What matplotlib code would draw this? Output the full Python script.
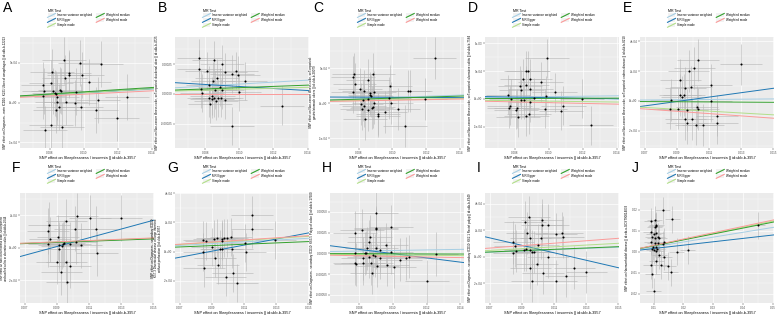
import matplotlib
matplotlib.use("Agg")
import matplotlib.pyplot as plt
from matplotlib.lines import Line2D
from matplotlib.patches import Rectangle
from matplotlib.legend_handler import HandlerBase
from matplotlib.ticker import AutoMinorLocator

plt.rcParams['font.family'] = ['Liberation Sans', 'DejaVu Sans']

W, H = 777, 315

methods = ['Inverse variance weighted', 'MR Egger', 'Simple mode', 'Weighted median', 'Weighted mode']
method_colors = ['#A6CEE3', '#1F78B4', '#B2DF8A', '#33A02C', '#FB9A99']

x_label = 'SNP effect on Sleeplessness / insomnia || id:ukb-b-3957'

# (beta exposure, beta outcome)
A_snps = [(0.00882, 5.3e-4), (0.00976, 5.0e-4), (0.01098, 4.9e-4), (0.00810, 3.8e-4), (0.00912, 3.75e-4),
          (0.00912, 3.46e-4), (0.0099, 3.5e-4), (0.00886, 3.1e-4), (0.00759, 2.2e-4), (0.00804, 2.5e-4),
          (0.01029, 2.6e-4), (0.00765, 1.5e-4), (0.0082, 1.5e-4), (0.00859, 1.58e-4), (0.00863, 1.46e-4),
          (0.00827, 1.2e-4), (0.00833, 1.1e-4), (0.00951, 1.4e-4), (0.00761, 0.83e-4), (0.00839, 0.67e-4),
          (0.01082, 0.38e-4), (0.01251, 0.75e-4), (0.00843, 0.08e-4), (0.00892, 0.12e-4), (0.00947, 0.0),
          (0.00851, -0.5e-4), (0.0098, -0.5e-4), (0.00833, -0.92e-4), (0.01072, -0.96e-4), (0.01192, -1.92e-4),
          (0.00808, -2.75e-4), (0.00873, -3.0e-4), (0.00769, -3.38e-4)]
B_snps = [(0.00767, 3.03e-4), (0.00853, 2.84e-4), (0.00898, 2.5e-4), (0.00767, 2.06e-4), (0.00812, 1.92e-4),
          (0.00918, 1.86e-4), (0.0098, 1.95e-4), (0.00957, 1.67e-4), (0.00992, 1.58e-4), (0.00869, 1.31e-4),
          (0.00845, 1.08e-4), (0.01035, 1.06e-4), (0.0082, 0.75e-4), (0.00888, 0.56e-4), (0.00776, 0.44e-4),
          (0.00859, 0.36e-4), (0.00898, 0.33e-4), (0.00782, 0.08e-4), (0.00996, 0.14e-4), (0.00843, -0.17e-4),
          (0.00851, -0.31e-4), (0.00825, -0.36e-4), (0.00873, -0.36e-4), (0.00894, -0.36e-4), (0.00839, -0.44e-4),
          (0.00863, -0.56e-4), (0.00918, -0.5e-4), (0.00829, -0.86e-4), (0.01251, -0.97e-4), (0.00957, -2.72e-4)]
C_snps = [(0.0125, 6.47e-4), (0.00771, 4.2e-4), (0.00887, 4.2e-4), (0.00765, 3.68e-4), (0.00775, 2.69e-4),
          (0.00854, 3.3e-4), (0.00984, 2.45e-4), (0.00765, 1.56e-4), (0.00808, 1.98e-4), (0.00833, 1.75e-4),
          (0.00866, 1.51e-4), (0.00893, 1.65e-4), (0.00868, 1.18e-4), (0.00872, 1.04e-4), (0.00852, 0.61e-4),
          (0.00823, 0.47e-4), (0.0098, 0.76e-4), (0.01091, 1.79e-4), (0.01103, 1.75e-4), (0.01192, 0.61e-4),
          (0.00814, -0.09e-4), (0.00833, -0.38e-4), (0.00891, 0.0), (0.00994, 0.0), (0.00876, -0.61e-4),
          (0.00885, -0.47e-4), (0.00852, -0.94e-4), (0.00817, -0.85e-4), (0.00913, -1.56e-4), (0.00914, -1.84e-4),
          (0.00955, -1.23e-4), (0.01033, -0.76e-4), (0.00839, -2.27e-4), (0.01074, -3.21e-4)]
D_snps = [(0.0099, 7.26e-4), (0.00868, 5.06e-4), (0.00878, 5.06e-4), (0.00845, 3.57e-4), (0.00951, 3.03e-4),
          (0.00889, 3.63e-4), (0.00831, 2.32e-4), (0.00868, 2.44e-4), (0.00839, 1.61e-4), (0.00891, 1.79e-4),
          (0.00761, 0.71e-4), (0.00777, 0.0), (0.00835, -0.18e-4), (0.00852, -0.12e-4), (0.00913, 0.18e-4),
          (0.0098, 0.54e-4), (0.01033, 1.19e-4), (0.00889, -0.6e-4), (0.01192, 0.0), (0.00769, -1.25e-4),
          (0.00767, -1.67e-4), (0.00978, -1.79e-4), (0.0081, -1.67e-4), (0.00806, -1.96e-4), (0.01085, -1.19e-4),
          (0.01072, -2.08e-4), (0.00868, -3.09e-4), (0.00885, -2.74e-4), (0.00819, -3.27e-4), (0.01246, -4.7e-4)]
E_snps = [(0.01033, 2.73e-4), (0.013, 2.44e-4), (0.01009, 2.18e-4), (0.00973, 2.0e-4), (0.00922, 1.4e-4),
          (0.01114, 1.07e-4), (0.00989, 0.95e-4), (0.00953, 0.87e-4), (0.00918, 0.4e-4), (0.00942, 0.4e-4),
          (0.00932, 0.29e-4), (0.00862, 0.04e-4), (0.01114, 0.02e-4), (0.00858, -0.51e-4), (0.00908, -0.51e-4),
          (0.00963, -0.58e-4), (0.01025, -0.4e-4), (0.01033, -0.53e-4), (0.0115, -0.98e-4), (0.00953, -1.2e-4),
          (0.00993, -1.22e-4), (0.00963, -1.49e-4), (0.01021, -1.58e-4), (0.01064, -1.62e-4), (0.0115, -1.47e-4)]
F_snps = [(0.01027, 1.94e-4), (0.013, 1.84e-4), (0.01108, 1.84e-4), (0.00959, 1.63e-4), (0.00852, 1.39e-4),
          (0.01013, 1.18e-4), (0.01144, 1.14e-4), (0.00845, 1.04e-4), (0.00856, 0.51e-4), (0.00908, 0.63e-4),
          (0.01019, 0.37e-4), (0.00942, 0.31e-4), (0.00938, 0.2e-4), (0.00847, 0.2e-4), (0.00912, 0.16e-4),
          (0.00932, 0.1e-4), (0.00983, 0.2e-4), (0.01049, 0.14e-4), (0.00912, -0.08e-4), (0.01148, -0.35e-4),
          (0.00902, -0.86e-4), (0.00959, -0.86e-4), (0.00983, -1.1e-4), (0.00928, -1.53e-4), (0.00963, -2.14e-4)]
G_snps = [(0.01148, 2.5e-4), (0.01148, 1.52e-4), (0.01296, 0.79e-4), (0.00847, 0.79e-4), (0.00862, 0.75e-4),
          (0.00912, 0.84e-4), (0.00932, 0.91e-4), (0.00963, 0.84e-4), (0.00973, 0.91e-4), (0.00993, 0.91e-4),
          (0.01019, 0.98e-4), (0.00963, 0.75e-4), (0.01104, 0.61e-4), (0.00902, 0.3e-4), (0.00953, 0.16e-4),
          (0.00963, 0.18e-4), (0.01023, 0.18e-4), (0.00847, 0.0), (0.0111, -0.05e-4), (0.00918, -0.41e-4),
          (0.00936, -0.93e-4), (0.00852, -1.14e-4), (0.01029, -1.48e-4), (0.00985, -1.75e-4), (0.01058, -2.16e-4)]
H_snps = [(0.00898, 4.88e-4), (0.0099, 3.2e-4), (0.00898, 3.08e-4), (0.00902, 2.92e-4), (0.00818, 2.8e-4),
          (0.00775, 2.48e-4), (0.00863, 2.0e-4), (0.00859, 1.4e-4), (0.00961, 1.0e-4), (0.00847, 0.6e-4),
          (0.00902, 0.68e-4), (0.00922, 0.4e-4), (0.0099, 0.16e-4), (0.00775, 0.08e-4), (0.00833, 0.0),
          (0.00839, 0.08e-4), (0.00882, -0.2e-4), (0.00892, -0.32e-4), (0.00859, -0.4e-4), (0.00824, -0.6e-4),
          (0.00925, -0.52e-4), (0.01043, -0.76e-4), (0.01078, -0.6e-4), (0.01094, -0.4e-4), (0.01255, -0.08e-4),
          (0.00775, -1.2e-4), (0.00784, -1.32e-4), (0.00824, -1.2e-4), (0.00873, -1.2e-4), (0.00965, -1.4e-4),
          (0.00906, -1.48e-4), (0.01004, -1.6e-4), (0.00878, -2.32e-4), (0.01202, -3.4e-4)]
I_snps = [(0.00942, 3.0e-4), (0.00918, 2.63e-4), (0.01023, 2.75e-4), (0.01027, 2.38e-4), (0.01062, 2.38e-4),
          (0.00932, 1.8e-4), (0.01114, 1.7e-4), (0.0115, 1.75e-4), (0.01155, 1.5e-4), (0.00953, 1.4e-4),
          (0.01021, 1.4e-4), (0.00847, 1.08e-4), (0.00858, 0.83e-4), (0.01003, 0.88e-4), (0.00862, 0.43e-4),
          (0.00916, 0.5e-4), (0.00928, 0.55e-4), (0.00948, 0.5e-4), (0.00847, 0.3e-4), (0.00963, 0.38e-4),
          (0.00973, 0.33e-4), (0.01064, -0.05e-4), (0.00993, -0.55e-4), (0.00953, -0.83e-4), (0.01227, -0.83e-4),
          (0.01033, -1.25e-4), (0.01175, -1.43e-4), (0.01302, -1.15e-4), (0.00963, -1.83e-4), (0.01114, -1.83e-4)]
J_snps = [(0.01304, 0.0197), (0.0163, 0.0154), (0.01033, 0.015), (0.00924, 0.0145), (0.01087, 0.0126),
          (0.01065, 0.0121), (0.01033, 0.0118), (0.00902, 0.0094), (0.01087, 0.0091), (0.01011, 0.0083),
          (0.00946, 0.0068), (0.01033, 0.0063), (0.01141, 0.0071), (0.01196, 0.0063), (0.00924, 0.0047),
          (0.01033, 0.0039), (0.01163, 0.0039), (0.01304, 0.0035), (0.01359, 0.0047), (0.00978, 0.0024),
          (0.01065, 0.002), (0.00946, 0.0013), (0.01, 0.0008), (0.01087, 0.0005), (0.0112, 0.0014),
          (0.01772, 0.0), (0.02152, 0.0008), (0.01196, -0.0016), (0.01359, -0.0024), (0.00902, -0.0063),
          (0.0125, -0.0063), (0.01087, -0.0043), (0.015, -0.0068), (0.01576, -0.0098), (0.00957, -0.0106),
          (0.01, -0.0189), (0.04511, 0.0126)]

# typical standard errors (exposure, outcome) per panel
A_se = (0.0013, 2.9e-4)
B_se = (0.0013, 1.6e-4)
C_se = (0.0013, 3.0e-4)
D_se = (0.0013, 3.5e-4)
E_se = (0.0013, 1.4e-4)
F_se = (0.0013, 1.4e-4)
G_se = (0.0013, 1.3e-4)
H_se = (0.0013, 2.6e-4)
I_se = (0.0013, 1.6e-4)
J_se = (0.0025, 0.0065)

# MR estimates: (intercept, slope) in order IVW, Egger, simple mode, weighted median, weighted mode
A_fit = [(0, 0.012), (0.2e-5, 0.0125), (0, 0.0125), (0, 0.0136), (0, 0.0106)]
B_fit = [(0, 0.0083), (1.48e-4, -0.0085), (0, 0.004), (0, 0.0053), (0, 0.0)]
C_fit = [(0, 0.0083), (0.95e-4, -0.001), (0, 0.005), (0, 0.0073), (0, 0.0043)]
D_fit = [(0, 0.004), (0.75e-4, -0.0053), (0, -0.004), (0, 0.001), (0, -0.0067)]
E_fit = [(0, 0.0009), (-1.36e-4, 0.0147), (0, -0.0062), (0, -0.0006), (0, -0.0077)]
F_fit = [(0, 0.0038), (-2.35e-4, 0.0269), (0, 0.0039), (0, 0.0036), (0, 0.0040)]
G_fit = [(0, 0.0061), (-1.84e-4, 0.0208), (0, 0.007), (0, 0.0046), (0, 0.0073)]
H_fit = [(0, 0.0034), (2.53e-4, -0.0257), (0, -0.002), (0, -0.0006), (0, -0.0037)]
I_fit = [(0, 0.0047), (3.38e-4, -0.0281), (0, 0.0067), (0, 0.005), (0, 0.0092)]
J_fit = [(0, 0.23), (-0.0001, 0.16), (0, 0.29), (0, 0.28), (0, 0.30)]

ylabels = {
    'A': 'SNP effect on Diagnoses - main ICD10: K221 Ulcer of oesophagus || id:ukb-b-12213',
    'B': 'SNP effect on Non-cancer illness code, self-reported: duodenal ulcer || id:ukb-b-4725',
    'C': 'SNP effect on Non-cancer illness code, self-reported:\ngastric/stomach ulcers || id:ukb-b-20079',
    'D': 'SNP effect on Non-cancer illness code, self-reported: ulcerative colitis || id:ukb-b-7584',
    'E': 'SNP effect on Non-cancer illness code, self-reported: crohns disease || id:ukb-b-8210',
    'F': 'SNP effect on Non-cancer illness code, self-reported:\nunclassified colitis or ulcerative colitis || id:ukb-b-2044',
    'G': 'SNP effect on Diagnoses - secondary ICD10:\nK57.3 Diverticular disease of large intestine\nwithout perforation || id:ukb-b-3957',
    'H': 'SNP effect on Diagnoses - secondary ICD10: K63.5 Polyp of colon || id:ukb-b-17600',
    'I': 'SNP effect on Diagnoses - secondary ICD10: K62.1 Rectal polyp || id:ukb-b-6349',
    'J': 'SNP effect on Haemorrhoidal disease || id:ebi-a-GCST90014033',
}

xt_a = [0.008, 0.010, 0.012, 0.014]
xt_b = [0.007, 0.009, 0.011, 0.013, 0.015]
xt_j = [0.01, 0.02, 0.03, 0.04, 0.05]
yt_sci5 = ([-5e-4, 0, 5e-4], ['-5e-04', '0e+00', '5e-04'])
yt_sci2 = ([-2e-4, 0, 2e-4, 4e-4], ['-2e-04', '0e+00', '2e-04', '4e-04'])


class DiagHandler(HandlerBase):
    def create_artists(self, legend, orig_handle, xdescent, ydescent, width, height, fontsize, trans):
        bg = Rectangle((-xdescent, -ydescent), width, height, fc='#F2F2F2', ec='none', transform=trans)
        ln = Line2D([-xdescent, -xdescent + width], [-ydescent, -ydescent + height],
                    color=orig_handle.get_color(), lw=0.8, transform=trans)
        return [bg, ln]


fig = plt.figure(figsize=(W / 100, H / 100), dpi=100)


def panel(letter, col, row, snps, se, fit, xlim, ylim, xticks, yticks, ytlabels):
    x0 = col * 155
    top = 37 if row == 0 else 193
    bottom = 148 if row == 0 else 303
    ax = fig.add_axes([(x0 + 20) / W, 1 - bottom / H, 134 / W, (bottom - top) / H])
    ax.set_facecolor('#EBEBEB')
    for s in ax.spines.values():
        s.set_visible(False)
    ax.grid(True, which='major', color='white', lw=0.5)
    ax.grid(True, which='minor', color='white', lw=0.25)
    ax.set_axisbelow(True)

    xs = [p[0] for p in snps]
    ys = [p[1] for p in snps]
    ax.errorbar(xs, ys, xerr=se[0], yerr=se[1], fmt='none', ecolor='#B5B5B5', elinewidth=0.4, capsize=0, zorder=2)
    lines = []
    for (b0, b1), c in zip(fit, method_colors):
        lines.append(ax.axline((0, b0), slope=b1, color=c, lw=0.7, zorder=3))
    ax.scatter(xs, ys, s=2.2, c='black', lw=0, zorder=4)

    ax.set_xlim(*xlim)
    ax.set_ylim(*ylim)
    ax.set_xticks(xticks)
    ax.set_xticklabels([('%g' % t) if letter == 'J' else ('%.3f' % t) for t in xticks])
    ax.set_yticks(yticks)
    ax.set_yticklabels(ytlabels)
    ax.xaxis.set_minor_locator(AutoMinorLocator(2))
    ax.yaxis.set_minor_locator(AutoMinorLocator(2))
    ax.tick_params(which='major', labelsize=2.2, labelcolor='#4D4D4D', length=1.2, width=0.3, color='#333333', pad=0.8)
    ax.tick_params(which='minor', length=0)
    ax.set_xlabel(x_label, fontsize=2.8, labelpad=1.2)
    ax.set_ylabel(ylabels[letter], fontsize=2.2 if letter != 'F' else 2.0, labelpad=1.0, linespacing=0.95)
    if letter == 'F':
        ax.yaxis.set_label_coords(-0.092, 0.5)

    if row == 0:
        fig.text((x0 + 3) / W, 1 - 1 / H, letter, fontsize=10, va='top', ha='left')
    else:
        fig.text((x0 + 12) / W, 1 - 161 / H, letter, fontsize=10, va='top', ha='left')
    ax.legend(lines, methods, ncol=2, title='MR Test', loc='upper left',
              bbox_to_anchor=((x0 + 46) / W, 1 - (top - 30) / H), bbox_transform=fig.transFigure,
              fontsize=2.2, title_fontsize=2.6, frameon=False, borderpad=0, handlelength=2.6,
              handleheight=1.6, handletextpad=0.6, columnspacing=1.3, labelspacing=0.3,
              handler_map={Line2D: DiagHandler()}, alignment='left')
    return ax


panel('A', 0, 0, A_snps, A_se, A_fit, (0.00624, 0.01412), (-5.7e-4, 8.25e-4), xt_a, *yt_sci5)
panel('B', 1, 0, B_snps, B_se, B_fit, (0.00624, 0.01408), (-4.53e-4, 4.78e-4), xt_a,
      [-0.00025, 0, 0.00025], ['-0.00025', '0.00000', '0.00025'])
panel('C', 2, 0, C_snps, C_se, C_fit, (0.00629, 0.01425), (-6.37e-4, 9.44e-4), xt_a, *yt_sci5)
panel('D', 3, 0, D_snps, D_se, D_fit, (0.00625, 0.01411), (-8.8e-4, 1.11e-3), xt_a,
      [-5e-4, 0, 5e-4, 1e-3], ['-5e-04', '0e+00', '5e-04', '1e-03'])
panel('E', 4, 0, E_snps, E_se, E_fit, (0.0067, 0.01505), (-3.15e-4, 4.28e-4), xt_b, *yt_sci2)
panel('F', 0, 1, F_snps, F_se, F_fit, (0.0067, 0.01505), (-3.41e-4, 3.37e-4), xt_b,
      [-2e-4, 0, 2e-4], ['-2e-04', '0e+00', '2e-04'])
panel('G', 1, 1, G_snps, G_se, G_fit, (0.0067, 0.01505), (-3.52e-4, 4.02e-4), xt_b, *yt_sci2)
panel('H', 2, 1, H_snps, H_se, H_fit, (0.00628, 0.01421), (-6.0e-4, 7.28e-4), xt_a,
      [-5e-4, -2.5e-4, 0, 2.5e-4, 5e-4], ['-0.00050', '-0.00025', '0.00000', '0.00025', '0.00050'])
panel('I', 3, 1, I_snps, I_se, I_fit, (0.0067, 0.01505), (-3.5e-4, 4.8e-4), xt_b, *yt_sci2)
panel('J', 4, 1, J_snps, J_se, J_fit, (0.00543, 0.0505), (-0.0244, 0.0279), xt_j,
      [-0.02, -0.01, 0, 0.01, 0.02], ['-0.02', '-0.01', '0.00', '0.01', '0.02'])

fig.savefig('out.png', dpi=100)
